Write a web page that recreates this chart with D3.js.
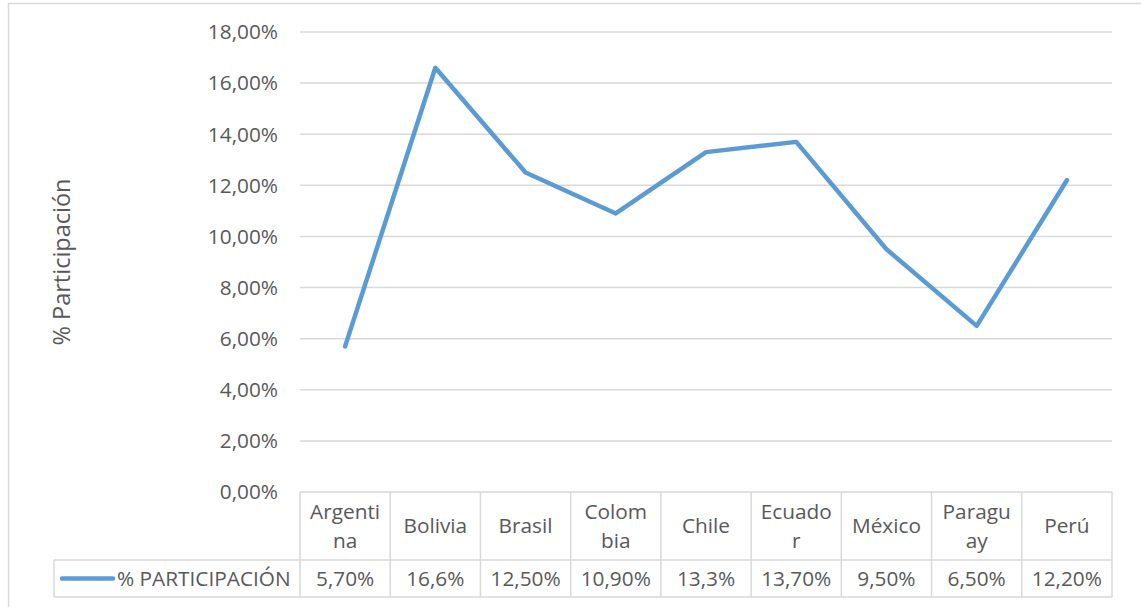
<!DOCTYPE html>
<html>
<head>
<meta charset="utf-8">
<script src="https://cdn.jsdelivr.net/npm/d3@7"></script>
<style>
  html, body { margin: 0; padding: 0; background: #fff; }
  svg { display: block; }
  text { font-family: "Open Sans", "Noto Sans", sans-serif; fill: #595959; }
</style>
</head>
<body>
<svg id="chart" width="1141" height="607"></svg>
<script>
// Country categories, split where the table cell wraps them
const categories = ["Argentina", "Bolivia", "Brasil", "Colombia", "Chile", "Ecuador", "México", "Paraguay", "Perú"];
const categoryLines = [["Argenti", "na"], ["Bolivia"], ["Brasil"], ["Colom", "bia"], ["Chile"], ["Ecuado", "r"], ["México"], ["Paragu", "ay"], ["Perú"]];
// Share of participation (percent)
const participation = [5.7, 16.6, 12.5, 10.9, 13.3, 13.7, 9.5, 6.5, 12.2];
const valueLabels = ["5,70%", "16,6%", "12,50%", "10,90%", "13,3%", "13,70%", "9,50%", "6,50%", "12,20%"];
const yTicks = [0, 2, 4, 6, 8, 10, 12, 14, 16, 18];
const seriesName = "% PARTICIPACIÓN";
const axisTitle = "% Participación";

const svg = d3.select("#chart");
const grid = "#d9d9d9";
const lineColor = "#5b9bd5";
const fs = 20.8;

const plot = { left: 300, right: 1112, top: 32, bottom: 492 };
const table = { headerBottom: 560, bottom: 597, legendLeft: 54 };

// Chart area frame
svg.append("rect")
  .attr("x", 8.5).attr("y", 3.5)
  .attr("width", 1160).attr("height", 640)
  .attr("fill", "none").attr("stroke", grid).attr("stroke-width", 1.5);

const x = d3.scaleBand().domain(categories).range([plot.left, plot.right]);
const y = d3.scaleLinear().domain([0, 18]).range([plot.bottom, plot.top]);

// Horizontal gridlines
svg.append("g").selectAll("line").data(yTicks.filter(d => d > 0)).join("line")
  .attr("x1", plot.left).attr("x2", plot.right)
  .attr("y1", d => y(d)).attr("y2", d => y(d))
  .attr("stroke", grid).attr("stroke-width", 1.5);

// Y axis tick labels
const fmt = d => d.toFixed(2).replace(".", ",") + "%";
svg.append("g").selectAll("text").data(yTicks).join("text")
  .attr("x", 278).attr("y", d => y(d))
  .attr("dy", "0.35em")
  .attr("text-anchor", "end")
  .attr("font-size", fs)
  .text(fmt);

// Y axis title
svg.append("text")
  .attr("transform", `translate(70,262) rotate(-90)`)
  .attr("text-anchor", "middle")
  .attr("font-size", 23.5)
  .text(axisTitle);

// Data table: cell borders
const tg = svg.append("g").attr("stroke", grid).attr("stroke-width", 1.5);
tg.append("line").attr("x1", plot.left).attr("x2", plot.right).attr("y1", plot.bottom).attr("y2", plot.bottom);
tg.append("line").attr("x1", table.legendLeft).attr("x2", plot.right).attr("y1", table.headerBottom).attr("y2", table.headerBottom);
tg.append("line").attr("x1", table.legendLeft).attr("x2", plot.right).attr("y1", table.bottom).attr("y2", table.bottom);
tg.append("line").attr("x1", table.legendLeft).attr("x2", table.legendLeft).attr("y1", table.headerBottom).attr("y2", table.bottom);
const edges = categories.map(c => x(c)).concat([plot.right]);
tg.selectAll("line.col").data(edges).join("line").attr("class", "col")
  .attr("x1", d => d).attr("x2", d => d)
  .attr("y1", plot.bottom).attr("y2", table.bottom);

// Category header cells
const headerMid = (plot.bottom + table.headerBottom) / 2;
const lineH = 29;
svg.append("g").selectAll("text").data(categories).join("text")
  .attr("x", c => x(c) + x.bandwidth() / 2)
  .attr("text-anchor", "middle")
  .attr("font-size", fs)
  .each(function(c, i) {
    const lines = categoryLines[i];
    const t = d3.select(this);
    lines.forEach((ln, k) => {
      t.append("tspan")
        .attr("x", x(c) + x.bandwidth() / 2)
        .attr("y", headerMid + (k - (lines.length - 1) / 2) * lineH)
        .attr("dy", "0.35em")
        .text(ln);
    });
  });

// Value row
const valueMid = (table.headerBottom + table.bottom) / 2;
svg.append("g").selectAll("text").data(categories).join("text")
  .attr("x", c => x(c) + x.bandwidth() / 2)
  .attr("y", valueMid).attr("dy", "0.35em")
  .attr("text-anchor", "middle")
  .attr("font-size", fs)
  .text((c, i) => valueLabels[i]);

// Legend key in the table
svg.append("line")
  .attr("x1", 62).attr("x2", 113).attr("y1", valueMid).attr("y2", valueMid)
  .attr("stroke", lineColor).attr("stroke-width", 4.5).attr("stroke-linecap", "round");
svg.append("text")
  .attr("x", 117).attr("y", valueMid).attr("dy", "0.35em")
  .attr("font-size", fs)
  .text(seriesName);

// Series line
const line = d3.line()
  .x((d, i) => x(categories[i]) + x.bandwidth() / 2)
  .y(d => y(d));
svg.append("path")
  .datum(participation)
  .attr("d", line)
  .attr("fill", "none")
  .attr("stroke", lineColor)
  .attr("stroke-width", 4.5)
  .attr("stroke-linecap", "round")
  .attr("stroke-linejoin", "round");
</script>
</body>
</html>
